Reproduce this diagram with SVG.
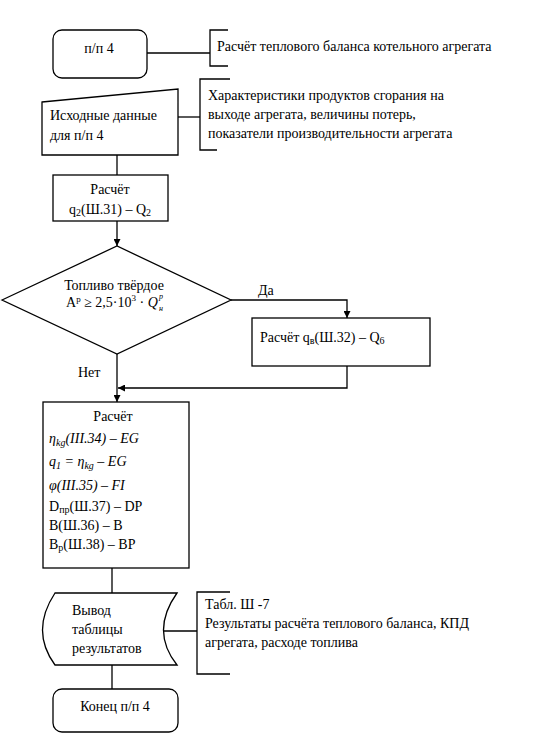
<svg xmlns="http://www.w3.org/2000/svg" width="539" height="741" viewBox="0 0 539 741">
<defs>
<marker id="a" viewBox="0 0 10 10" refX="10" refY="5" markerWidth="7" markerHeight="7" orient="auto" markerUnits="userSpaceOnUse">
<path d="M0,0 L10,5 L0,10 z" fill="#000"/>
</marker>
</defs>
<rect width="539" height="741" fill="#fff"/>
<g id="connectors" fill="none" stroke="#000" stroke-width="1.3">
<path d="M147,53 H210"/>
<path d="M228,30 H210 V66 H228"/>
<path d="M178,117 H200"/>
<path d="M230,79 H200 V150 H217"/>
<path d="M117,155 V175"/>
<path d="M117,221 V246" marker-end="url(#a)"/>
<path d="M231,300 H347 V318" marker-end="url(#a)"/>
<path d="M347,366 V388 H118" marker-end="url(#a)"/>
<path d="M117,354 V402" marker-end="url(#a)"/>
<path d="M112,568 V593"/>
<path d="M157,631 H197"/>
<path d="M230,592 H197 V674 H230"/>
<path d="M112,665 V689"/>
</g>
<g id="start">
<rect fill="#fff" stroke="#000" stroke-width="1.3" x="53" y="30" width="94" height="48" rx="9"/>
<text style="font-family:'Liberation Serif';font-size:14px" x="99" y="53" text-anchor="middle">п/п 4</text>
</g>
<g id="note1">
<text style="font-family:'Liberation Serif';font-size:14px" x="217" y="51">Расчёт теплового баланса котельного агрегата</text>
</g>
<g id="input">
<path fill="#fff" stroke="#000" stroke-width="1.3" d="M42,102 L178,89 V155 H42 Z"/>
<text style="font-family:'Liberation Serif';font-size:14px" x="50" y="120">Исходные данные</text>
<text style="font-family:'Liberation Serif';font-size:14px" x="50" y="140">для п/п 4</text>
</g>
<g id="note2">
<text style="font-family:'Liberation Serif';font-size:14px" x="208" y="100">Характеристики продуктов сгорания на</text>
<text style="font-family:'Liberation Serif';font-size:14px" x="208" y="119">выходе агрегата, величины потерь,</text>
<text style="font-family:'Liberation Serif';font-size:14px" x="208" y="138">показатели производительности агрегата</text>
</g>
<g id="calc1">
<rect fill="#fff" stroke="#000" stroke-width="1.3" x="53" y="175" width="115" height="46"/>
<text style="font-family:'Liberation Serif';font-size:14px" x="110" y="194" text-anchor="middle">Расчёт</text>
<text style="font-family:'Liberation Serif';font-size:14px" x="110" y="214" text-anchor="middle">q<tspan font-size="10" dy="2">2</tspan><tspan dy="-2">(Ш.31) – Q</tspan><tspan font-size="10" dy="2">2</tspan></text>
</g>
<g id="decision">
<path fill="#fff" stroke="#000" stroke-width="1.3" d="M2,300 L117,246 L231,300 L117,354 Z"/>
<text style="font-family:'Liberation Serif';font-size:14px" x="114" y="290" text-anchor="middle">Топливо твёрдое</text>
<text style="font-family:'Liberation Serif';font-size:14px" x="66" y="307">A<tspan font-size="9" dy="-5">р</tspan><tspan dy="5"> ≥ 2,5·10</tspan><tspan font-size="9" dy="-6">3</tspan><tspan dy="6"> · </tspan><tspan font-style="italic">Q</tspan></text>
<text style="font-family:'Liberation Serif';font-size:8px;font-style:italic" x="159" y="299">р</text>
<text style="font-family:'Liberation Serif';font-size:8px;font-style:italic" x="159" y="311">н</text>
</g>
<text style="font-family:'Liberation Serif';font-size:14px" x="258" y="295">Да</text>
<text style="font-family:'Liberation Serif';font-size:14px" x="78" y="377">Нет</text>
<g id="calc2">
<rect fill="#fff" stroke="#000" stroke-width="1.3" x="252" y="318" width="178" height="48"/>
<text style="font-family:'Liberation Serif';font-size:14px" x="260" y="342">Расчёт q<tspan font-size="10" dy="2">в</tspan><tspan dy="-2">(Ш.32) – Q</tspan><tspan font-size="10" dy="2">6</tspan></text>
</g>
<g id="calc3">
<rect fill="#fff" stroke="#000" stroke-width="1.3" x="43" y="402" width="146" height="166"/>
<text style="font-family:'Liberation Serif';font-size:14px" x="113" y="421" text-anchor="middle">Расчёт</text>
<text style="font-family:'Liberation Serif';font-size:14px;font-style:italic" x="49" y="443">η<tspan font-size="10" dy="3">kg</tspan><tspan dy="-3">(III.34) – EG</tspan></text>
<text style="font-family:'Liberation Serif';font-size:14px;font-style:italic" x="49" y="466">q<tspan font-size="10" dy="3">1</tspan><tspan dy="-3"> = η</tspan><tspan font-size="10" dy="3">kg</tspan><tspan dy="-3"> – EG</tspan></text>
<text style="font-family:'Liberation Serif';font-size:14px;font-style:italic" x="49" y="490">φ(III.35) – FI</text>
<text style="font-family:'Liberation Serif';font-size:14px" x="49" y="511">D<tspan font-size="10" dy="2">пр</tspan><tspan dy="-2">(Ш.37) – DP</tspan></text>
<text style="font-family:'Liberation Serif';font-size:14px" x="49" y="530">B(Ш.36) – B</text>
<text style="font-family:'Liberation Serif';font-size:14px" x="49" y="549">B<tspan font-size="10" dy="2">р</tspan><tspan dy="-2">(Ш.38) – BP</tspan></text>
</g>
<g id="output">
<path fill="#fff" stroke="#000" stroke-width="1.3" d="M55,593 H177 Q150,631 177,665 H55 Q30,631 55,593 Z"/>
<text style="font-family:'Liberation Serif';font-size:14px" x="72" y="615">Вывод</text>
<text style="font-family:'Liberation Serif';font-size:14px" x="72" y="634">таблицы</text>
<text style="font-family:'Liberation Serif';font-size:14px" x="72" y="653">результатов</text>
</g>
<g id="note3">
<text style="font-family:'Liberation Serif';font-size:14px" x="205" y="609">Табл. Ш -7</text>
<text style="font-family:'Liberation Serif';font-size:14px" x="205" y="628">Результаты расчёта теплового баланса, КПД</text>
<text style="font-family:'Liberation Serif';font-size:14px" x="205" y="647">агрегата, расходе топлива</text>
</g>
<g id="end">
<rect fill="#fff" stroke="#000" stroke-width="1.3" x="53" y="689" width="125" height="43" rx="9"/>
<text style="font-family:'Liberation Serif';font-size:14px" x="115" y="711" text-anchor="middle">Конец п/п 4</text>
</g>
</svg>
